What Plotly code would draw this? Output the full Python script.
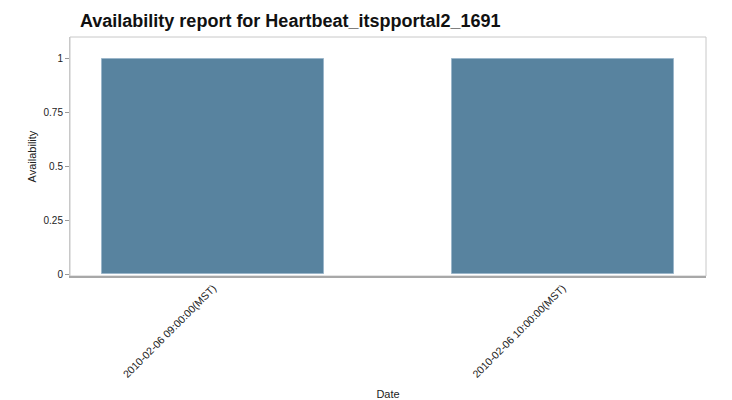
import plotly.graph_objects as go

dates = ["2010-02-06 09:00:00(MST)", "2010-02-06 10:00:00(MST)"]
availability = [1, 1]
y_tick_vals = [0, 0.25, 0.5, 0.75, 1]
y_tick_text = ["0", "0.25", "0.5", "0.75", "1"]

# the page body adds an 8px margin, so the figure is sized to fit the window
W, H = 724, 392

fig = go.Figure()
fig.add_trace(go.Bar(
    x=dates, y=availability,
    width=0.636,
    marker=dict(color="#58839f", line=dict(color="#9bb6ca", width=1)),
))

fig.update_layout(
    width=W, height=H,
    paper_bgcolor="white", plot_bgcolor="white",
    margin=dict(l=62, r=26, t=29, b=124, autoexpand=False),
    showlegend=False,
    font=dict(family="Liberation Sans, Arial, sans-serif", size=10, color="#222"),
    title=dict(
        text="<b>Availability report for Heartbeat_itspportal2_1691</b>",
        x=72 / W, xanchor="left", xref="container", y=1 - 13 / H, yanchor="middle",
        pad=dict(l=0, r=0, t=0, b=0),
        font=dict(size=18, color="#111"),
    ),
    bargap=0,
)
fig.update_xaxes(
    type="category", range=[-0.41, 1.41], automargin=False,
    tickangle=-45, ticks="", showgrid=False,
    showline=True, linecolor="#a8a8a8", linewidth=2, mirror=False,
    tickfont=dict(size=10.5),
    title=dict(text="Date", font=dict(size=11), standoff=106),
)
fig.update_yaxes(
    range=[-0.008, 1.1], tickvals=y_tick_vals, ticktext=y_tick_text, automargin=False,
    ticks="outside", ticklen=4, tickcolor="#999", showgrid=False, zeroline=False,
    showline=True, linecolor="#c8c8c8", linewidth=1,
    tickfont=dict(size=10),
    title=dict(text="Availability", font=dict(size=11), standoff=4),
)
fig.add_shape(type="rect", xref="paper", yref="paper", x0=0, x1=1, y0=0, y1=1,
              line=dict(color="#c8c8c8", width=1), fillcolor="rgba(0,0,0,0)", layer="below")

fig.write_html("out.html")
